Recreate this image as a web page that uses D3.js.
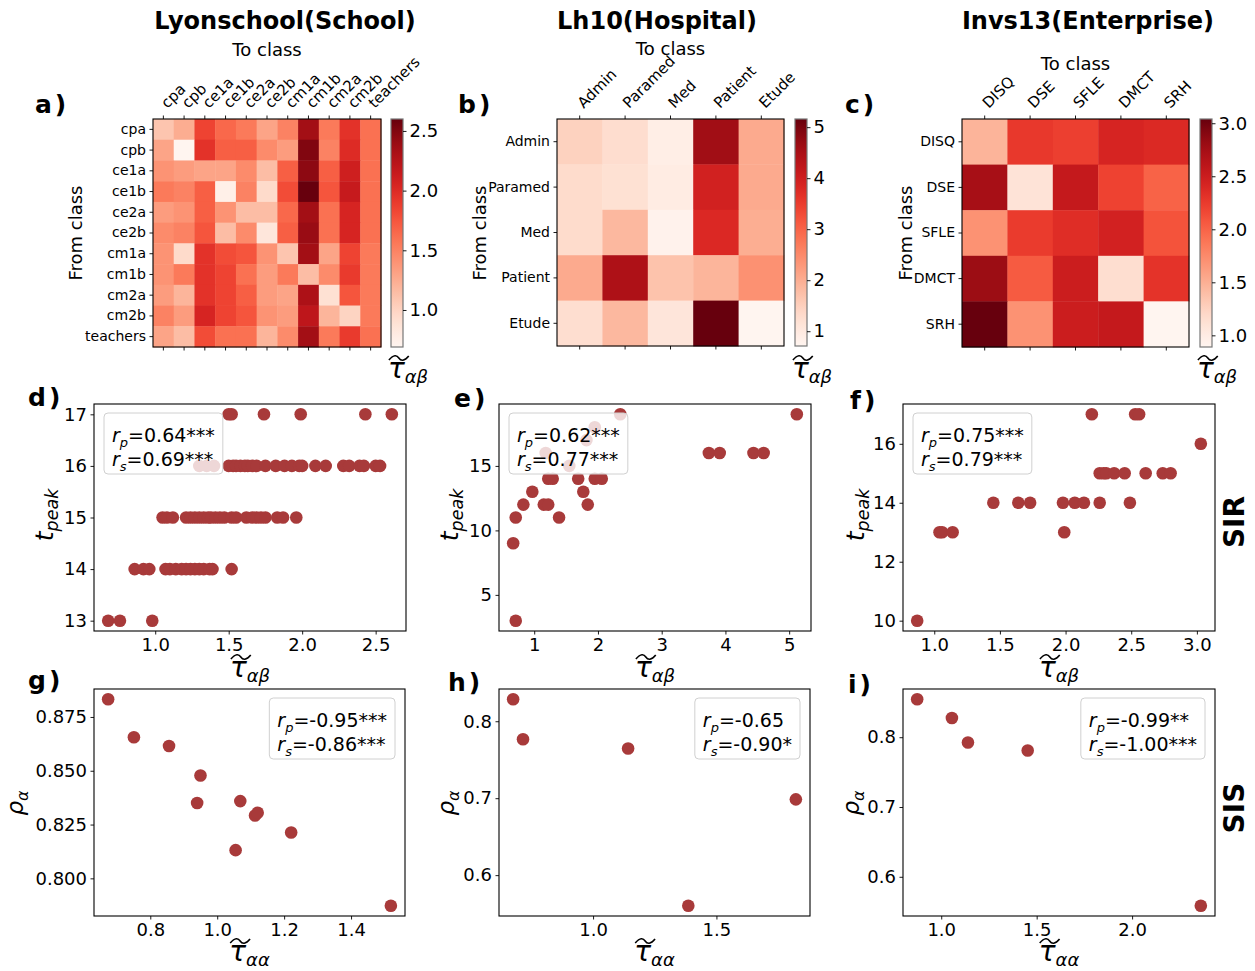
<!doctype html>
<html lang="en">
<head>
<meta charset="utf-8">
<title>tau heatmaps and epidemic scatters</title>
<script src="https://cdn.jsdelivr.net/npm/d3@7"></script>
<style>
  body { margin: 0; background: #fff; }
  text { font-family: "DejaVu Sans", sans-serif; fill: #000; }
  .domain { display: none; }
  .tick line { stroke: #000; stroke-width: 0.9; }
</style>
</head>
<body>
<div id="chart"></div>
<script>
// ---- data ----
const titles = ["Lyonschool(School)", "Lh10(Hospital)", "Invs13(Enterprise)"];

const schoolClasses = ["cpa", "cpb", "ce1a", "ce1b", "ce2a", "ce2b", "cm1a", "cm1b", "cm2a", "cm2b", "teachers"];
const schoolTau = [
  [1.10, 1.25, 1.85, 1.65, 1.55, 1.30, 1.50, 2.35, 1.55, 1.95, 1.60],
  [1.30, 0.69, 1.95, 1.70, 1.70, 1.45, 1.35, 2.50, 1.50, 2.00, 1.60],
  [1.40, 1.35, 1.30, 1.30, 1.45, 1.15, 1.70, 2.45, 1.70, 2.10, 1.60],
  [1.55, 1.50, 1.70, 0.75, 1.50, 0.95, 1.80, 2.60, 1.75, 2.15, 1.60],
  [1.35, 1.40, 1.70, 1.40, 1.15, 1.15, 1.65, 2.35, 1.60, 2.05, 1.60],
  [1.45, 1.50, 1.75, 1.15, 1.45, 0.85, 1.70, 2.40, 1.60, 2.05, 1.60],
  [1.40, 0.95, 1.95, 1.80, 1.75, 1.40, 1.10, 2.35, 1.30, 1.85, 1.55],
  [1.40, 1.55, 1.95, 1.85, 1.60, 1.35, 1.55, 1.15, 1.45, 1.90, 1.55],
  [1.35, 1.20, 1.95, 1.85, 1.70, 1.35, 1.30, 2.30, 0.90, 1.75, 1.55],
  [1.50, 1.35, 2.05, 1.85, 1.75, 1.40, 1.35, 2.20, 1.20, 1.00, 1.55],
  [1.30, 1.15, 1.80, 1.60, 1.60, 1.20, 1.45, 2.35, 1.55, 1.90, 1.60]
];
const schoolCbarTicks = [1.0, 1.5, 2.0, 2.5];

const hospitalClasses = ["Admin", "Paramed", "Med", "Patient", "Etude"];
const hospitalTau = [
  [1.47, 1.27, 0.90, 4.60, 2.05],
  [1.30, 1.20, 0.95, 3.95, 2.05],
  [1.30, 1.85, 0.78, 3.80, 2.00],
  [2.05, 4.45, 1.70, 1.90, 2.40],
  [1.25, 1.85, 1.10, 5.16, 0.71]
];
const hospitalCbarTicks = [1, 2, 3, 4, 5];

const enterpriseClasses = ["DISQ", "DSE", "SFLE", "DMCT", "SRH"];
const enterpriseTau = [
  [1.47, 2.27, 2.22, 2.42, 2.38],
  [2.74, 1.10, 2.55, 2.20, 2.00],
  [1.70, 2.25, 2.35, 2.45, 2.10],
  [2.80, 2.05, 2.50, 1.15, 2.30],
  [3.04, 1.70, 2.50, 2.55, 0.89]
];
const enterpriseCbarTicks = [1.0, 1.5, 2.0, 2.5, 3.0];

// SIR: tau_ab vs t_peak
const sirSchoolTau = [1.50, 1.52, 1.74, 1.99, 2.43, 2.61,
  1.30, 1.35, 1.40, 1.50, 1.53, 1.55, 1.58, 1.61, 1.63, 1.66, 1.69, 1.75, 1.82, 1.88, 1.93, 1.98, 2.00, 2.09, 2.16, 2.28, 2.32, 2.39, 2.42, 2.50, 2.53,
  1.05, 1.08, 1.12, 1.21, 1.24, 1.27, 1.30, 1.33, 1.36, 1.38, 1.41, 1.44, 1.47, 1.52, 1.55, 1.62, 1.66, 1.69, 1.72, 1.75, 1.83, 1.87, 1.96,
  0.86, 0.92, 0.96, 1.07, 1.10, 1.14, 1.18, 1.21, 1.24, 1.27, 1.30, 1.33, 1.37, 1.39, 1.52,
  0.68, 0.76, 0.98];
const sirSchoolPeak = [17, 17, 17, 17, 17, 17,
  16, 16, 16, 16, 16, 16, 16, 16, 16, 16, 16, 16, 16, 16, 16, 16, 16, 16, 16, 16, 16, 16, 16, 16, 16,
  15, 15, 15, 15, 15, 15, 15, 15, 15, 15, 15, 15, 15, 15, 15, 15, 15, 15, 15, 15, 15, 15, 15,
  14, 14, 14, 14, 14, 14, 14, 14, 14, 14, 14, 14, 14, 14, 14,
  13, 13, 13];

const sirHospitalTau = [0.67, 0.71, 0.71, 0.83, 0.97, 1.15, 1.22, 1.18, 1.22, 1.29, 1.39, 1.55, 1.69, 1.77, 1.82, 1.84, 1.95, 1.95, 2.06, 2.35, 3.74, 3.91, 4.44, 4.60, 5.12];
const sirHospitalPeak = [9, 3, 11, 12, 13, 12, 12, 16, 14, 14, 11, 15, 14, 13, 17, 12, 18, 14, 14, 19, 16, 16, 16, 16, 19];

const sirEnterpriseTau = [0.87, 1.04, 1.06, 1.14, 1.45, 1.64, 1.73, 1.98, 1.99, 2.07, 2.14, 2.20, 2.26, 2.26, 2.29, 2.31, 2.37, 2.45, 2.49, 2.53, 2.56, 2.61, 2.74, 2.80, 3.03];
const sirEnterprisePeak = [10, 13, 13, 13, 14, 14, 14, 14, 13, 14, 14, 17, 14, 15, 15, 15, 15, 15, 14, 17, 17, 15, 15, 15, 16];

// SIS: tau_aa vs rho_a
const sisSchoolTau = [0.674, 0.751, 0.856, 0.950, 0.940, 1.069, 1.055, 1.113, 1.121, 1.221, 1.519];
const sisSchoolRho = [0.8832, 0.8656, 0.8615, 0.8478, 0.8350, 0.8359, 0.8131, 0.8292, 0.8305, 0.8213, 0.7873];

const sisHospitalTau = [0.676, 0.716, 1.142, 1.386, 1.822];
const sisHospitalRho = [0.8285, 0.7767, 0.7646, 0.5603, 0.6985];

const sisEnterpriseTau = [0.874, 1.056, 1.140, 1.453, 2.360];
const sisEnterpriseRho = [0.8543, 0.8276, 0.7924, 0.7810, 0.5586];

const sirStats = [["0.64***", "0.69***"], ["0.62***", "0.77***"], ["0.75***", "0.79***"]];
const sisStats = [["-0.95***", "-0.86***"], ["-0.65", "-0.90*"], ["-0.99**", "-1.00***"]];

const sirXTicks = [[1.0, 1.5, 2.0, 2.5], [1, 2, 3, 4, 5], [1.0, 1.5, 2.0, 2.5, 3.0]];
const sirYTicks = [[13, 14, 15, 16, 17], [5, 10, 15], [10, 12, 14, 16]];
const sisXTicks = [[0.8, 1.0, 1.2, 1.4], [1.0, 1.5], [1.0, 1.5, 2.0]];
const sisYTicks = [[0.800, 0.825, 0.850, 0.875], [0.6, 0.7, 0.8], [0.6, 0.7, 0.8]];

// ---- layout ----
const heatBoxes = [
  {x: 153, y: 119, w: 228, h: 228, cb: 391},
  {x: 557, y: 119, w: 227, h: 227, cb: 795},
  {x: 962, y: 119, w: 227, h: 228, cb: 1200}
];
const sirBoxes = [
  {x: 94, y: 404, w: 312, h: 227},
  {x: 499, y: 404, w: 312, h: 227},
  {x: 903, y: 404, w: 312, h: 227}
];
const sisBoxes = [
  {x: 94, y: 689, w: 311, h: 227},
  {x: 499, y: 689, w: 311, h: 227},
  {x: 903, y: 689, w: 312, h: 227}
];
const dotColor = "#a83a3a";

const svg = d3.select("#chart").append("svg")
  .attr("width", 1255)
  .attr("height", 971);

// tilde-tau label like \widetilde{\tau}_{ab}
function tauLabel(cx, baseY, sub) {
  const t = svg.append("text").attr("x", 0).attr("y", baseY).attr("font-style", "italic");
  const tau = t.append("tspan").attr("font-size", 28).text("τ");
  t.append("tspan").attr("font-size", 18).attr("dy", 5).text(sub);
  const w = t.node().getComputedTextLength();
  const tw = tau.node().getComputedTextLength();
  const x0 = cx - w / 2;
  t.attr("x", x0);
  const ty = baseY - 20, a = x0 + 1, tl = tw + 3;
  svg.append("path")
    .attr("d", `M${a},${ty + 2} C${a + tl * 0.25},${ty - 3.5} ${a + tl * 0.4},${ty - 3} ${a + tl * 0.5},${ty} S${a + tl * 0.78},${ty + 3.5} ${a + tl},${ty - 2}`)
    .attr("fill", "none").attr("stroke", "#000").attr("stroke-width", 1.6);
}

// rotated y label: main symbol + subscript
function yLabel(bx, cy, main, sub, size) {
  const t = svg.append("text")
    .attr("transform", `translate(${bx},${cy}) rotate(-90)`)
    .attr("text-anchor", "middle").attr("font-style", "italic");
  t.append("tspan").attr("font-size", size).text(main);
  t.append("tspan").attr("font-size", size * 0.7).attr("dy", 5).text(sub);
}

function panelLetter(x, y, s) {
  svg.append("text").attr("x", x).attr("y", y)
    .attr("font-size", 25).attr("font-weight", "bold")
    .attr("letter-spacing", 3).text(s);
}

function drawHeat(i, classes, values, cbarTicks, cbarFmt) {
  const b = heatBoxes[i];
  const g = svg.append("g");
  const x = d3.scaleBand().domain(classes).range([b.x, b.x + b.w]);
  const y = d3.scaleBand().domain(classes).range([b.y, b.y + b.h]);
  const color = d3.scaleSequential(d3.interpolateReds).domain(d3.extent(values.flat()));

  const cells = [];
  values.forEach((row, r) => row.forEach((v, c) => cells.push({from: classes[r], to: classes[c], v: v})));
  g.selectAll("rect.cell").data(cells).join("rect")
    .attr("class", "cell")
    .attr("x", d => x(d.to)).attr("y", d => y(d.from))
    .attr("width", x.bandwidth() + 0.4).attr("height", y.bandwidth() + 0.4)
    .attr("fill", d => color(d.v));
  g.append("rect").attr("x", b.x).attr("y", b.y).attr("width", b.w).attr("height", b.h)
    .attr("fill", "none").attr("stroke", "#000").attr("stroke-width", 1.1);

  const top = g.append("g").attr("transform", `translate(0,${b.y})`)
    .call(d3.axisTop(x).tickSize(3.5));
  top.selectAll("text")
    .attr("x", 0).attr("y", 0).attr("dy", 0)
    .attr("font-size", 15).attr("text-anchor", "start")
    .attr("transform", "translate(4,-10) rotate(-45)");
  g.append("g").attr("transform", `translate(0,${b.y + b.h})`)
    .call(d3.axisBottom(x).tickSize(3.5).tickFormat(""));
  g.append("g").attr("transform", `translate(${b.x},0)`)
    .call(d3.axisLeft(y).tickSize(3.5).tickPadding(3.5))
    .selectAll("text").attr("font-size", 14);

  // colorbar
  const gid = "grad" + i;
  const grad = svg.append("defs").append("linearGradient").attr("id", gid)
    .attr("x1", 0).attr("y1", 1).attr("x2", 0).attr("y2", 0);
  d3.range(0, 1.0001, 0.05).forEach(t => grad.append("stop")
    .attr("offset", t).attr("stop-color", d3.interpolateReds(t)));
  g.append("rect").attr("x", b.cb).attr("y", b.y).attr("width", 12).attr("height", b.h)
    .attr("fill", `url(#${gid})`).attr("stroke", "#777").attr("stroke-width", 1.2);
  const cs = d3.scaleLinear().domain(color.domain()).range([b.y + b.h, b.y]);
  g.append("g").attr("transform", `translate(${b.cb + 12},0)`)
    .call(d3.axisRight(cs).tickValues(cbarTicks).tickFormat(d3.format(cbarFmt)).tickSize(3.5).tickPadding(3))
    .selectAll("text").attr("font-size", 18);

  tauLabel(b.cb + 17, 378, "αβ");
}

function drawScatter(b, xs, ys, xTicks, yTicks, xFmt, yFmt, stats, rightLegend) {
  const g = svg.append("g");
  const pad = a => { const e = d3.extent(a), p = (e[1] - e[0]) * 0.05; return [e[0] - p, e[1] + p]; };
  const x = d3.scaleLinear().domain(pad(xs)).range([b.x, b.x + b.w]);
  const y = d3.scaleLinear().domain(pad(ys)).range([b.y + b.h, b.y]);
  const pts = xs.map((v, k) => [v, ys[k]]);

  g.selectAll("circle").data(pts).join("circle")
    .attr("cx", d => x(d[0])).attr("cy", d => y(d[1]))
    .attr("r", 6.3).attr("fill", dotColor);

  g.append("g").attr("transform", `translate(0,${b.y + b.h})`)
    .call(d3.axisBottom(x).tickValues(xTicks).tickFormat(d3.format(xFmt)).tickSize(3.5).tickPadding(3.5))
    .selectAll("text").attr("font-size", 18);
  g.append("g").attr("transform", `translate(${b.x},0)`)
    .call(d3.axisLeft(y).tickValues(yTicks).tickFormat(d3.format(yFmt)).tickSize(3.5).tickPadding(3.5))
    .selectAll("text").attr("font-size", 18);

  g.append("rect").attr("x", b.x).attr("y", b.y).attr("width", b.w).attr("height", b.h)
    .attr("fill", "none").attr("stroke", "#000").attr("stroke-width", 1.1);

  // legend with correlation coefficients
  const lg = g.append("g");
  const box = lg.append("rect").attr("y", b.y + 9).attr("height", 61).attr("rx", 4)
    .attr("fill", "#fff").attr("fill-opacity", 0.8).attr("stroke", "#d0d0d0").attr("stroke-width", 1);
  const lines = [["p", stats[0]], ["s", stats[1]]];
  const texts = lines.map((l, k) => {
    const t = lg.append("text").attr("y", b.y + 38 + k * 24).attr("font-size", 19);
    t.append("tspan").attr("font-style", "italic").text("r");
    t.append("tspan").attr("font-style", "italic").attr("font-size", 13).attr("dy", 5).text(l[0]);
    t.append("tspan").attr("dy", -5).text("=" + l[1]);
    return t;
  });
  const tw = d3.max(texts, t => t.node().getComputedTextLength());
  const bw = tw + 16;
  const bx = rightLegend ? b.x + b.w - 10 - bw : b.x + 10;
  box.attr("x", bx).attr("width", bw);
  texts.forEach(t => t.attr("x", bx + 8));
}

// ---- heatmaps ----
drawHeat(0, schoolClasses, schoolTau, schoolCbarTicks, ".1f");
drawHeat(1, hospitalClasses, hospitalTau, hospitalCbarTicks, "d");
drawHeat(2, enterpriseClasses, enterpriseTau, enterpriseCbarTicks, ".1f");

const titleX = [285, 657, 1088];
titles.forEach((t, k) => svg.append("text").attr("x", titleX[k]).attr("y", 29)
  .attr("text-anchor", "middle").attr("font-size", 24).attr("font-weight", "bold").text(t));

const toY = [56, 55, 70];
const fromX = [81.5, 486, 912];
heatBoxes.forEach((b, k) => {
  svg.append("text").attr("x", b.x + b.w / 2).attr("y", toY[k])
    .attr("text-anchor", "middle").attr("font-size", 18).text("To class");
  svg.append("text").attr("transform", `translate(${fromX[k]},233) rotate(-90)`)
    .attr("text-anchor", "middle").attr("font-size", 18).text("From class");
});

// ---- SIR scatters ----
drawScatter(sirBoxes[0], sirSchoolTau, sirSchoolPeak, sirXTicks[0], sirYTicks[0], ".1f", "d", sirStats[0], false);
drawScatter(sirBoxes[1], sirHospitalTau, sirHospitalPeak, sirXTicks[1], sirYTicks[1], "d", "d", sirStats[1], false);
drawScatter(sirBoxes[2], sirEnterpriseTau, sirEnterprisePeak, sirXTicks[2], sirYTicks[2], ".1f", "d", sirStats[2], false);

// ---- SIS scatters ----
drawScatter(sisBoxes[0], sisSchoolTau, sisSchoolRho, sisXTicks[0], sisYTicks[0], ".1f", ".3f", sisStats[0], true);
drawScatter(sisBoxes[1], sisHospitalTau, sisHospitalRho, sisXTicks[1], sisYTicks[1], ".1f", ".1f", sisStats[1], true);
drawScatter(sisBoxes[2], sisEnterpriseTau, sisEnterpriseRho, sisXTicks[2], sisYTicks[2], ".1f", ".1f", sisStats[2], true);

sirBoxes.forEach(b => tauLabel(b.x + b.w / 2, 677, "αβ"));
sisBoxes.forEach(b => tauLabel(b.x + b.w / 2, 961, "αα"));

[53, 458, 864].forEach(x => yLabel(x, 515, "t", "peak", 25));
[23, 454, 859].forEach(x => yLabel(x, 803, "ρ", "α", 23));

// panel letters
panelLetter(35, 113, "a)");
panelLetter(458, 113, "b)");
panelLetter(845, 113, "c)");
panelLetter(28, 406, "d)");
panelLetter(454, 407, "e)");
panelLetter(850, 409, "f)");
panelLetter(28, 689, "g)");
panelLetter(448, 691, "h)");
panelLetter(848, 693, "i)");

svg.append("text").attr("transform", "translate(1244,522) rotate(-90)")
  .attr("text-anchor", "middle").attr("font-size", 28).attr("font-weight", "bold").text("SIR");
svg.append("text").attr("transform", "translate(1244,808) rotate(-90)")
  .attr("text-anchor", "middle").attr("font-size", 28).attr("font-weight", "bold").text("SIS");
</script>
</body>
</html>
